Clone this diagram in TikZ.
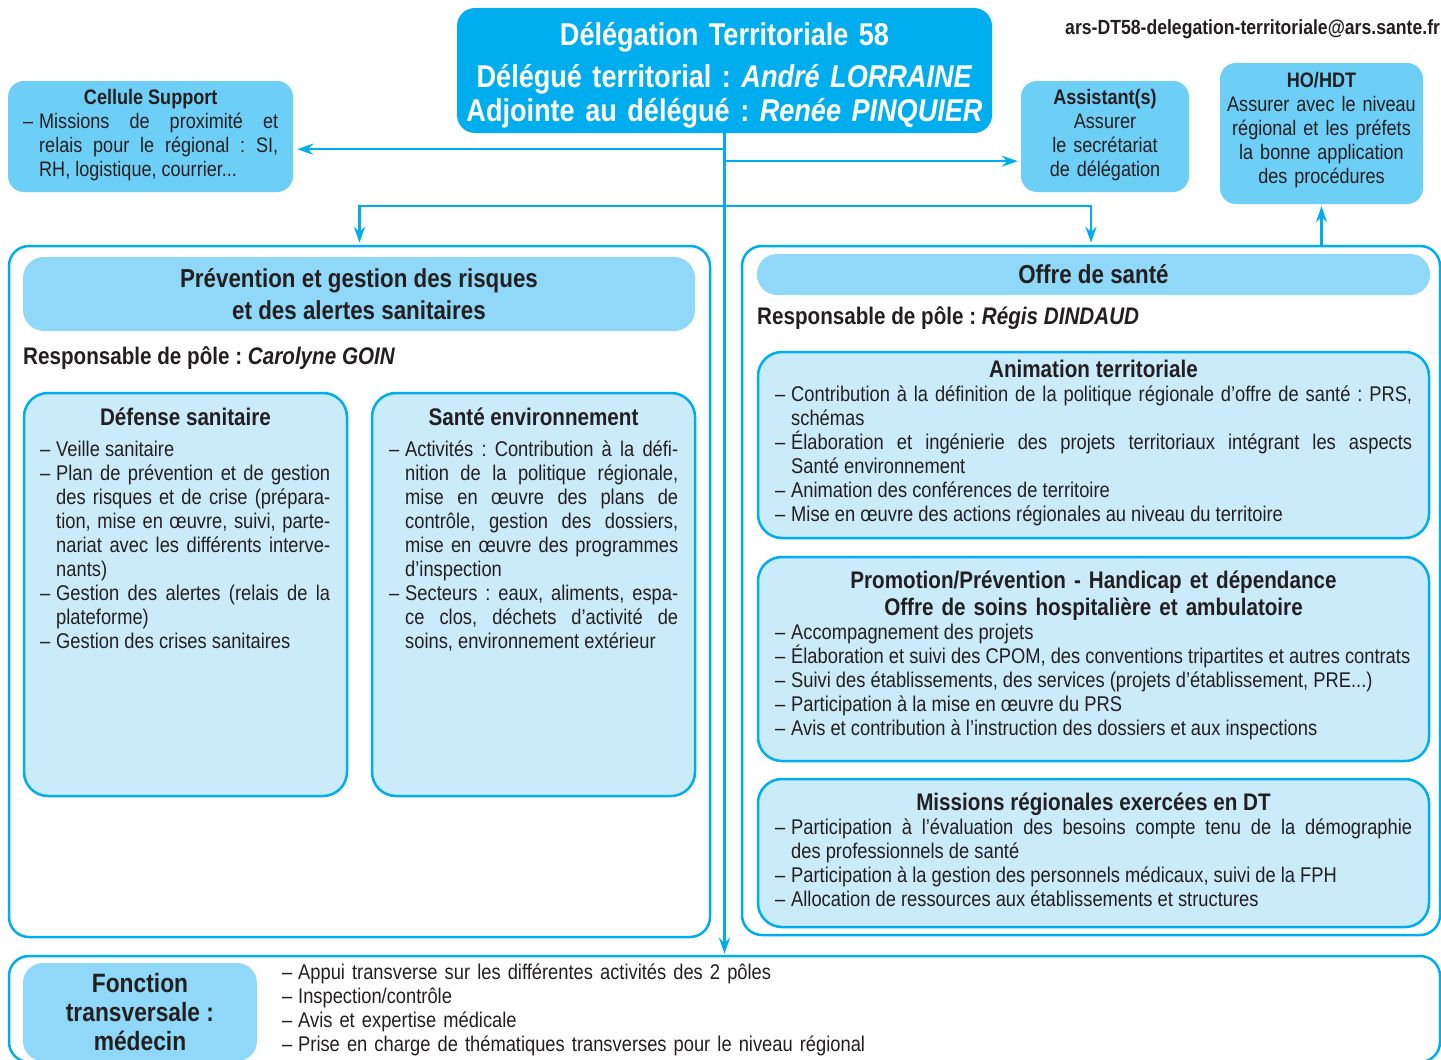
\documentclass[tikz,border=0pt]{standalone}
\usepackage{fontspec}
\setmainfont{Liberation Sans}[FakeStretch=0.86]
\frenchspacing
\usetikzlibrary{positioning,arrows.meta,calc}

\definecolor{dtblue}{RGB}{0,174,239}
\definecolor{supblue}{RGB}{109,207,246}
\definecolor{headblue}{RGB}{143,216,247}
\definecolor{paleblue}{RGB}{202,235,250}
\definecolor{ink}{RGB}{35,31,32}

% tiret avec retrait suspendu (premier point, puis suivants)
\newcommand{\fitem}{\hangindent=16pt\hangafter=1\makebox[16pt][l]{–}}
\newcommand{\ditem}{\par\noindent\fitem}

\begin{document}
\begin{tikzpicture}[x=1pt, y=-1pt,
    box/.style={rectangle, inner sep=0pt},
    headbox/.style={box, fill=dtblue, rounded corners=18pt},
    headtext/.style={anchor=base, inner sep=0pt, text width=530pt, align=center, text=white, font=\bfseries\fontsize{31.5}{34}\selectfont},
    mail/.style={anchor=base west, inner sep=0pt, text=ink, font=\bfseries\fontsize{20.5}{24}\selectfont},
    sidebox/.style={box, fill=supblue, rounded corners=16pt},
    sidetext/.style={inner sep=0pt, text=ink, font=\fontsize{21}{24}\selectfont},
    pole/.style={box, draw=dtblue, line width=2.5pt, fill=white, rounded corners=20pt},
    polehead/.style={box, fill=headblue, rounded corners=21pt, text=ink, align=center, font=\bfseries\fontsize{26}{32}\selectfont},
    resp/.style={anchor=base west, inner sep=0pt, text=ink, font=\bfseries\fontsize{24}{28}\selectfont},
    unit/.style={box, draw=dtblue, line width=2.5pt, fill=paleblue, rounded corners=24pt},
    unittitle/.style={anchor=base, inner sep=0pt, text=ink, align=center, font=\bfseries\fontsize{24}{27}\selectfont},
    items/.style={anchor=base west, inner sep=0pt, text=ink, align=justify, font=\fontsize{21.3}{24}\selectfont},
    link/.style={draw=dtblue, line width=2.5pt},
    tolink/.style={link, -{Stealth[length=16pt, width=11pt]}}
]
\useasboundingbox (0,0) rectangle (1441,1060);

% Delegation
\node[headbox, minimum width=535pt, minimum height=125pt] (dt) at (724.5,70.5) {};
\node[headtext] (dtT) at (724.5,45.3) {Délégation Territoriale 58\\[8pt]
  Délégué territorial : \textit{André LORRAINE}\\
  Adjointe au délégué : \textit{Renée PINQUIER}};
\node[mail] (mail) at (1065,34.3) {ars-DT58-delegation-territoriale@ars.sante.fr};

% Cellule support, assistant(s), HO/HDT
\node[sidebox, minimum width=285pt, minimum height=111pt] (cell) at (150.5,136.5) {};
\node[sidetext, anchor=base west, text width=255pt, align=justify] (cellT) at (23,104.5)
  {\makebox[\linewidth]{\bfseries Cellule Support}\ditem Missions de proximité et\linebreak
   relais pour le régional : SI,\linebreak RH, logistique, courrier...\par};

\node[sidebox, minimum width=168pt, minimum height=111pt] (asst) at (1105,136.5) {};
\node[sidetext, anchor=base, text width=160pt, align=center] (asstT) at (1105,104.5)
  {\textbf{Assistant(s)}\\Assurer\\le secrétariat\\de délégation};

\node[sidebox, minimum width=203pt, minimum height=141pt] (hohdt) at (1321.5,133.5) {};
\node[sidetext, anchor=base, text width=200pt, align=center] (hohdtT) at (1321.5,87.5)
  {\textbf{HO/HDT}\\Assurer avec le niveau\\régional et les préfets\\la bonne application\\des procédures};

% Pole prevention
\node[pole, minimum width=701pt, minimum height=691pt] (prev) at (359.5,591.5) {};
\node[polehead, minimum width=672pt, minimum height=74pt] (prevH) at (359,294)
  {Prévention et gestion des risques\\et des alertes sanitaires};
\node[resp] (prevR) at (23,364.6) {Responsable de pôle : \textit{Carolyne GOIN}};

\node[unit, minimum width=323pt, minimum height=403pt] (defense) at (185.5,594.5) {};
\node[unittitle] (defenseT) at (185.5,425.6) {Défense sanitaire};
\node[items, text width=290pt] (defenseL) at (40,456.5)
  {\fitem Veille sanitaire
   \ditem Plan de prévention et de gestion\linebreak des risques et de crise (prépara-\linebreak
   tion, mise en œuvre, suivi, parte-\linebreak nariat avec les différents interve-\linebreak nants)
   \ditem Gestion des alertes (relais de la\linebreak plateforme)
   \ditem Gestion des crises sanitaires\par};

\node[unit, minimum width=323pt, minimum height=403pt] (sante) at (533.5,594.5) {};
\node[unittitle] (santeT) at (533.5,425.6) {Santé environnement};
\node[items, text width=289pt] (santeL) at (389,456.5)
  {\fitem Activités : Contribution à la défi-\linebreak nition de la politique régionale,\linebreak
   mise en œuvre des plans de\linebreak contrôle, gestion des dossiers,\linebreak
   mise en œuvre des programmes\linebreak d’inspection
   \ditem Secteurs : eaux, aliments, espa-\linebreak ce clos, déchets d’activité de\linebreak
   soins, environnement extérieur\par};

% Pole offre de sante
\node[pole, minimum width=698pt, minimum height=689pt] (offre) at (1091,590.5) {};
\node[polehead, minimum width=673pt, minimum height=41pt, rounded corners=20pt] (offreH) at (1093.5,274.5) {Offre de santé};
\node[resp] (offreR) at (757,324.6) {Responsable de pôle : \textit{Régis DINDAUD}};

\node[unit, minimum width=671pt, minimum height=186pt] (anim) at (1093.5,445) {};
\node[unittitle] (animT) at (1093.5,377.6) {Animation territoriale};
\node[items, text width=637pt] (animL) at (775,401.5)
  {\fitem Contribution à la définition de la politique régionale d’offre de santé : PRS,\linebreak schémas
   \ditem Élaboration et ingénierie des projets territoriaux intégrant les aspects\linebreak Santé environnement
   \ditem Animation des conférences de territoire
   \ditem Mise en œuvre des actions régionales au niveau du territoire\par};

\node[unit, minimum width=671pt, minimum height=204pt] (promo) at (1093.5,659) {};
\node[unittitle, text width=660pt] (promoT) at (1093.5,588.6)
  {Promotion/Prévention - Handicap et dépendance\\Offre de soins hospitalière et ambulatoire};
\node[items, text width=637pt] (promoL) at (775,639.5)
  {\fitem Accompagnement des projets
   \ditem Élaboration et suivi des CPOM, des conventions tripartites et autres contrats
   \ditem Suivi des établissements, des services (projets d’établissement, PRE...)
   \ditem Participation à la mise en œuvre du PRS
   \ditem Avis et contribution à l’instruction des dossiers et aux inspections\par};

\node[unit, minimum width=671pt, minimum height=148pt] (missions) at (1093.5,853) {};
\node[unittitle] (missionsT) at (1093.5,810.6) {Missions régionales exercées en DT};
\node[items, text width=637pt] (missionsL) at (775,834.5)
  {\fitem Participation à l’évaluation des besoins compte tenu de la démographie\linebreak des professionnels de santé
   \ditem Participation à la gestion des personnels médicaux, suivi de la FPH
   \ditem Allocation de ressources aux établissements et structures\par};

% Fonction transversale
\node[pole, minimum width=1431pt, minimum height=106pt] (transv) at (724.5,1009) {};
\node[polehead, minimum width=234pt, minimum height=98pt, rounded corners=20pt,
      font=\bfseries\fontsize{26.5}{29}\selectfont] (medecin) at (140,1012)
  {Fonction\\transversale :\\médecin};
\node[items, text width=700pt, align=left] (transvL) at (282,979.5)
  {\fitem Appui transverse sur les différentes activités des 2 pôles
   \ditem Inspection/contrôle
   \ditem Avis et expertise médicale
   \ditem Prise en charge de thématiques transverses pour le niveau régional\par};

% Liaisons
\coordinate (jcell) at ($(dt.south)+(0,16)$);
\coordinate (jasst) at ($(dt.south)+(0,28)$);
\coordinate (jpole) at ($(dt.south)+(0,73)$);
\draw[tolink, shorten >=1pt] (dt.south) -- (dt.south |- transv.north);
\draw[tolink, shorten >=4pt] (jcell) -- (jcell -| cell.east);
\draw[tolink, shorten >=3pt] (jasst) -- (jasst -| asst.west);
\draw[tolink, shorten >=2pt] (jpole) -| (prev.north);
\draw[tolink, shorten >=2pt] (jpole) -| (offre.north);
\draw[tolink, shorten >=2pt] (offre.north -| hohdt.south) -- (hohdt.south);

\end{tikzpicture}
\end{document}
